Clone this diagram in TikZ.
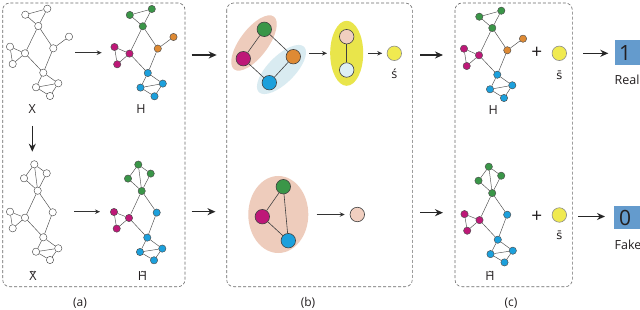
\documentclass[tikz,border=0pt]{standalone}
\usepackage{fontspec}
\setmainfont{Open Sans}
\newfontfamily\accfont{DejaVu Sans}
\usetikzlibrary{arrows.meta,shapes.geometric}
\definecolor{ggreen}{RGB}{58,150,72}
\definecolor{gmag}{RGB}{190,24,120}
\definecolor{gorange}{RGB}{222,138,52}
\definecolor{gblue}{RGB}{28,160,220}
\definecolor{epink}{RGB}{238,204,188}
\definecolor{eblue}{RGB}{217,235,241}
\definecolor{eyellow}{RGB}{233,229,75}
\definecolor{nyellow}{RGB}{240,234,80}
\definecolor{npink}{RGB}{241,207,192}
\definecolor{nblue}{RGB}{222,240,246}
\definecolor{boxblue}{RGB}{100,155,205}
\definecolor{txt}{RGB}{35,31,32}
\definecolor{dashgray}{RGB}{105,105,105}
\tikzset{
  gn/.style={circle,draw=black!70,line width=0.45pt,minimum size=7.3pt,inner sep=0pt,fill=white},
  ge/.style={draw=black!70,line width=0.45pt},
  bn/.style={circle,draw=black!75,line width=0.6pt,minimum size=14.5pt,inner sep=0pt},
  be/.style={draw=black!75,line width=0.6pt},
  blob/.style={ellipse,inner sep=0pt,draw=none},
  panel/.style={draw=dashgray,dash pattern=on 3pt off 2pt,line width=0.6pt,rounded corners=7pt},
  bigarrow/.style={-{Stealth[length=8pt,width=7pt]},line width=1.2pt,draw=black!85},
  smallarrow/.style={-{Stealth[length=5pt,width=4.5pt]},line width=0.8pt,draw=black!80},
  lbl/.style={text=txt,font=\fontsize{12.5}{14}\selectfont,inner sep=0pt,anchor=base},
  captext/.style={text=txt,font=\fontsize{12}{14}\selectfont,inner sep=0pt},
  plus/.style={text=txt,font=\fontsize{19}{21}\selectfont,inner sep=0pt},
  outbox/.style={fill=boxblue,draw=none,inner sep=0pt},
  outnum/.style={text=txt,font=\fontsize{21}{23}\selectfont,inner sep=0pt},
}
\newcommand\GTop[6]{%
  \begin{scope}[shift={#2},name prefix=#1-]
    \node[gn,fill=#3] (t1) at (25.3,14.7) {};
    \node[gn,fill=#3] (t2) at (47.3,8.7) {};
    \node[gn,fill=#3] (t3) at (38.3,26) {};
    \node[gn,fill=#4] (r1) at (53.3,48.3) {};
    \node[gn,fill=#4] (r2) at (69,36.7) {};
    \node[gn,fill=#5] (l0) at (25,53.3) {};
    \node[gn,fill=#5] (l1) at (10,46.7) {};
    \node[gn,fill=#5] (l2) at (12.7,64) {};
    \node[gn,fill=#6] (b0) at (43.3,72.7) {};
    \node[gn,fill=#6] (b1) at (36,87.3) {};
    \node[gn,fill=#6] (b2) at (58.3,83.3) {};
    \node[gn,fill=#6] (b3) at (50,96) {};
    \foreach \u/\v in {t1/t2,t2/t3,t3/t1,t3/l0,t3/r1,r1/r2,l0/l1,l1/l2,l2/l0,l0/b0,r1/b0,b0/b1,b0/b2,b1/b2,b1/b3,b2/b3}
      \draw[ge] (\u) -- (\v);
  \end{scope}}
\newcommand\GBot[5]{%
  \begin{scope}[shift={#2},name prefix=#1-]
    \node[gn,fill=#3] (a0) at (34.3,164.3) {};
    \node[gn,fill=#3] (a1) at (24,178.3) {};
    \node[gn,fill=#3] (a2) at (46.7,173.3) {};
    \node[gn,fill=#3] (a3) at (37.7,190.7) {};
    \node[gn,fill=#4] (l0) at (25,217.7) {};
    \node[gn,fill=#4] (l1) at (10,211.7) {};
    \node[gn,fill=#4] (l2) at (12.7,228.3) {};
    \node[gn,fill=#5] (r1) at (52.7,212.3) {};
    \node[gn,fill=#5] (b0) at (43.3,237.3) {};
    \node[gn,fill=#5] (b1) at (36,251.7) {};
    \node[gn,fill=#5] (b2) at (58.3,248.3) {};
    \node[gn,fill=#5] (b3) at (50,260) {};
    \foreach \u/\v in {a0/a1,a0/a2,a0/a3,a1/a3,a2/a3,a3/l0,a3/r1,l0/l1,l1/l2,l2/l0,l0/b0,r1/b0,b0/b1,b0/b2,b1/b2,b1/b3,b2/b3}
      \draw[ge] (\u) -- (\v);
  \end{scope}}
\begin{document}
\begin{tikzpicture}[x=1pt,y=-1pt]
\useasboundingbox[fill=white] (0,0) rectangle (640,310);
% panels
\draw[panel] (2.7,3) rectangle (185,286.7);
\draw[panel] (226.7,3) rectangle (412.3,286.7);
\draw[panel] (455,3) rectangle (572.3,286.7);
\node[captext] (capa) at (80,303) {(a)};
\node[captext] (capb) at (308,303) {(b)};
\node[captext] (capc) at (511,303) {(c)};
% panel (a)
\GTop{x}{(0,0)}{white}{white}{white}{white}
\GTop{h}{(104.5,0.3)}{ggreen}{gorange}{gmag}{gblue}
\GBot{xt}{(0,0)}{white}{white}{white}
\GBot{ht}{(104,0.3)}{ggreen}{gmag}{gblue}
\node[lbl] (lx) at (32.3,113.3) {X};
\node[lbl] (lh) at (141,114) {H};
\node[lbl] (lxt) at (33,280) {\~{X}};
\node[lbl] (lht) at (142.5,280) {\~{H}};
\coordinate (a1s) at (75,52.7); \coordinate (a1e) at (101.7,52.7);
\coordinate (a2s) at (32.3,126); \coordinate (a2e) at (32.3,151.7);
\coordinate (a3s) at (74,211.7); \coordinate (a3e) at (100,211.7);
\draw[smallarrow] (a1s) -- (a1e);
\draw[bigarrow] (a2s) -- (a2e);
\draw[smallarrow] (a3s) -- (a3e);
% a -> b
\coordinate (ab1s) at (191.7,55); \coordinate (ab1e) at (216.7,55);
\coordinate (ab2s) at (191.7,211.7); \coordinate (ab2e) at (215.5,211.7);
\draw[bigarrow] (ab1s) -- (ab1e);
\draw[bigarrow] (ab2s) -- (ab2e);
% panel (b) top
\node[blob,fill=epink,minimum width=66pt,minimum height=28pt,rotate=53] (ep1) at (254,43) {};
\node[blob,fill=eblue,minimum width=64pt,minimum height=27pt,rotate=45] (ep2) at (281.5,69.5) {};
\node[bn,fill=ggreen] (bg) at (264.3,29.3) {};
\node[bn,fill=gmag] (bm) at (243.3,58.7) {};
\node[bn,fill=gorange] (bo) at (293.3,56.7) {};
\node[bn,fill=gblue] (bb) at (269.3,82.7) {};
\draw[be] (bg) -- (bm);
\draw[be] (bg) -- (bo);
\draw[be] (bm) -- (bb);
\draw[be] (bo) -- (bb);
\node[blob,fill=eyellow,minimum width=33pt,minimum height=65pt] (ey) at (346.7,53.3) {};
\node[bn,fill=npink] (yp) at (346.7,36.7) {};
\node[bn,fill=nblue] (yb) at (346.7,70) {};
\draw[draw=black!75,line width=0.9pt] (yp) -- (yb);
\node[bn,fill=nyellow,draw=black!45] (sb) at (394.3,53.3) {};
\node[lbl] (lsb) at (394.3,78.3) {\'{s}};
\coordinate (b1s) at (309.3,53.3);
\draw[smallarrow,shorten >=3pt] (b1s) -- (ey.west);
\draw[smallarrow,shorten <=5pt,shorten >=4.5pt] (ey.east) -- (sb);
% panel (b) bottom
\node[blob,fill=epink,minimum width=60pt,minimum height=77pt] (ep3) at (278.3,214.5) {};
\node[bn,fill=ggreen] (cg) at (283.3,186.7) {};
\node[bn,fill=gmag] (cm) at (262.3,216.7) {};
\node[bn,fill=gblue] (cb) at (288.3,240.7) {};
\draw[be] (cg) -- (cm);
\draw[be] (cg) -- (cb);
\draw[be] (cm) -- (cb);
\node[bn,fill=npink] (pn) at (357.3,214.5) {};
\draw[smallarrow,shorten <=8pt,shorten >=5pt] (ep3.east) -- (pn);
% b -> c
\coordinate (bc1s) at (420,55); \coordinate (bc1e) at (443,55);
\coordinate (bc2s) at (420,212.7); \coordinate (bc2e) at (443,212.7);
\draw[bigarrow] (bc1s) -- (bc1e);
\draw[bigarrow] (bc2s) -- (bc2e);
% panel (c)
\GTop{hc}{(454,2)}{ggreen}{gorange}{gmag}{gblue}
\GBot{htc}{(454.5,2.4)}{ggreen}{gmag}{gblue}
\node[lbl] (lhc) at (493.3,115) {H};
\node[lbl] (lhtc) at (490,280) {\~{H}};
\node[plus] (p1) at (536.7,53.3) {+};
\node[plus] (p2) at (536.7,217.3) {+};
\node[bn,fill=nyellow,draw=black!45] (sc1) at (559.3,53.3) {};
\node[bn,fill=nyellow,draw=black!45] (sc2) at (559.3,215) {};
\node[lbl,font=\accfont\fontsize{11.5}{13}\selectfont] (lsc1) at (559.3,79.5) {\={s}};
\node[lbl,font=\accfont\fontsize{11.5}{13}\selectfont] (lsc2) at (559.3,239) {\={s}};
% outputs
\node[outbox,minimum width=26pt,minimum height=25pt] (o1) at (628,52.5) {};
\node[outbox,minimum width=26pt,minimum height=23pt] (o0) at (627,217.5) {};
\node[outnum] (n1) at (625,53) {1};
\node[outnum] (n0) at (625,217.5) {0};
\node[lbl,anchor=base west] (lr) at (614.5,85) {Real};
\node[lbl,anchor=base west] (lf) at (614.5,249) {Fake};
\coordinate (co1s) at (583.3,53.3); \coordinate (co1e) at (608.3,53.3);
\coordinate (co2s) at (578.3,216.5); \coordinate (co2e) at (605,216.5);
\draw[bigarrow] (co1s) -- (co1e);
\draw[bigarrow] (co2s) -- (co2e);
\end{tikzpicture}
\end{document}
